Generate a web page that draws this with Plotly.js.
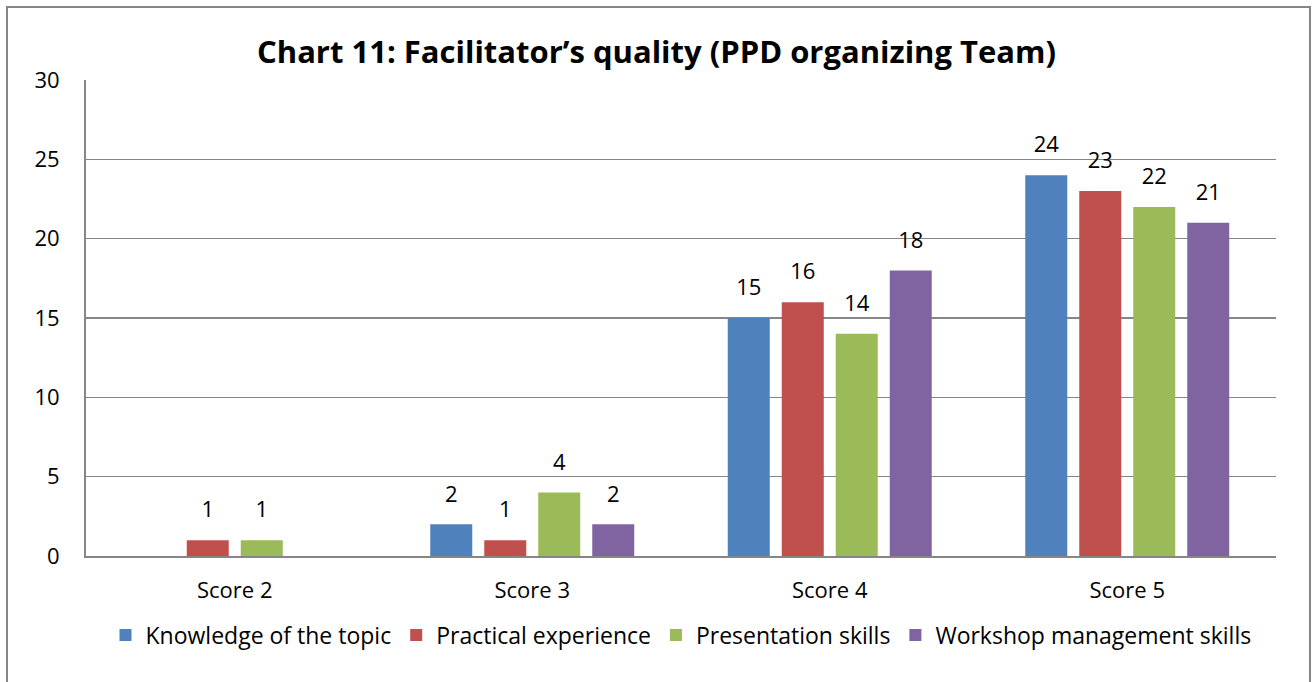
<!DOCTYPE html>
<html>
<head>
<meta charset="utf-8">
<script src="https://cdn.plot.ly/plotly-3.0.1.min.js"></script>
<style>html,body{margin:0;padding:0;background:#fff;}#chart{width:1313px;height:682px;}</style>
</head>
<body>
<div id="chart"></div>
<script>
const categories = ['Score 2', 'Score 3', 'Score 4', 'Score 5'];
const seriesNames = ['Knowledge of the topic', 'Practical experience', 'Presentation skills', 'Workshop management skills'];
const knowledge = [0, 2, 15, 24];
const practical = [1, 1, 16, 23];
const presentation = [1, 4, 14, 22];
const workshop = [0, 2, 18, 21];
const yTicks = [0, 5, 10, 15, 20, 25, 30];
const colors = ['#4F81BD', '#C0504D', '#9BBB59', '#8064A2'];

const FONT = 'Open Sans, Noto Sans, sans-serif';
const allSeries = [knowledge, practical, presentation, workshop];
const GAP = 0.274;

const bars = allSeries.map((vals, i) => ({
  type: 'bar',
  name: seriesNames[i],
  x: categories,
  y: vals,
  offsetgroup: 'g' + i,
  marker: {color: colors[i]},
  hoverinfo: 'x+y+name'
}));
const labels = allSeries.map((vals, i) => ({
  type: 'scatter',
  mode: 'markers+text',
  x: categories,
  y: vals,
  offsetgroup: 'g' + i,
  text: vals.map(v => v > 0 ? String(v) : ''),
  textposition: 'top center',
  textfont: {family: FONT, size: 22, color: '#000'},
  marker: {size: 26, opacity: 0, color: colors[i]},
  cliponaxis: false,
  showlegend: false,
  hoverinfo: 'skip'
}));

const layout = {
  width: 1313, height: 682,
  paper_bgcolor: '#fff', plot_bgcolor: '#fff',
  margin: {l: 86, r: 37, t: 80, b: 126},
  font: {family: FONT, size: 22, color: '#000'},
  title: {
    text: '<b>Chart 11: Facilitator’s quality (PPD organizing Team)</b>',
    font: {family: FONT, size: 31, color: '#000'},
    x: 0.5, xanchor: 'center', xref: 'container',
    y: 1 - 52/682, yanchor: 'middle', yref: 'container'
  },
  barmode: 'group',
  bargap: GAP,
  bargroupgap: 0.222,
  scattermode: 'group',
  scattergap: GAP,
  showlegend: true,
  legend: {
    orientation: 'h', x: 0.5, xanchor: 'center', y: -0.166, yanchor: 'middle',
    font: {family: FONT, size: 23, color: '#000'},
    traceorder: 'normal'
  },
  xaxis: {
    type: 'category', categoryarray: categories,
    showgrid: false, zeroline: false,
    showline: true, linecolor: '#868686', linewidth: 2,
    ticks: '', tickfont: {family: FONT, size: 22, color: '#000'},
    ticklabelstandoff: 14, fixedrange: true
  },
  yaxis: {
    range: [0, 30], tickvals: yTicks, ticktext: yTicks.map(String),
    showgrid: true, gridcolor: '#868686', gridwidth: 1.5,
    zeroline: false, showline: true, linecolor: '#868686', linewidth: 2,
    ticks: '', tickfont: {family: FONT, size: 22, color: '#000'},
    ticklabelstandoff: 20, fixedrange: true
  },
  shapes: [{
    type: 'rect', xref: 'paper', yref: 'paper',
    x0: (7 - 86) / 1190, x1: (1310 - 86) / 1190,
    y0: (556 - 700) / 476, y1: (556 - 7) / 476,
    line: {color: '#868686', width: 2}, fillcolor: 'rgba(0,0,0,0)', layer: 'below'
  }]
};

Plotly.newPlot('chart', bars.concat(labels), layout, {displayModeBar: false, staticPlot: true});
</script>
</body>
</html>
